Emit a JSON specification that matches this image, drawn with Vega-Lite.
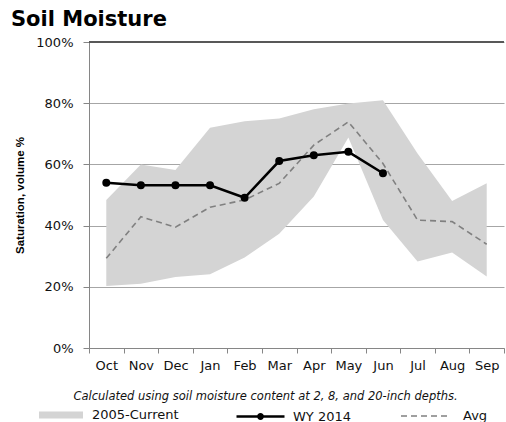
{
  "$schema": "https://vega.github.io/schema/vega-lite/v6.json",
  "width": 415,
  "height": 306,
  "autosize": "none",
  "padding": {"left": 89, "top": 42, "right": 2, "bottom": 74},
  "background": "white",
  "title": {
    "text": "Soil Moisture",
    "anchor": "start",
    "frame": "group",
    "dx": -78,
    "dy": 8,
    "offset": 14,
    "font": "DejaVu Sans",
    "fontSize": 21,
    "fontWeight": "bold",
    "color": "#000000"
  },
  "config": {
    "view": {"stroke": null},
    "font": "DejaVu Sans",
    "legend": {"padding": 0, "titlePadding": 0}
  },
  "data": {
    "values": [
      {"month": "Oct", "lo": 20.3, "hi": 48.4, "wy": 54.0, "avg": 29.3},
      {"month": "Nov", "lo": 21.0, "hi": 60.0, "wy": 53.2, "avg": 42.9},
      {"month": "Dec", "lo": 23.2, "hi": 58.2, "wy": 53.2, "avg": 39.5},
      {"month": "Jan", "lo": 24.1, "hi": 72.0, "wy": 53.2, "avg": 46.0},
      {"month": "Feb", "lo": 29.6, "hi": 74.1, "wy": 49.1, "avg": 48.4},
      {"month": "Mar", "lo": 37.3, "hi": 75.0, "wy": 61.1, "avg": 53.8},
      {"month": "Apr", "lo": 49.5, "hi": 78.0, "wy": 63.0, "avg": 66.3},
      {"month": "May", "lo": 68.8, "hi": 79.9, "wy": 64.1, "avg": 73.9},
      {"month": "Jun", "lo": 41.8, "hi": 81.0, "wy": 57.1, "avg": 60.3},
      {"month": "Jul", "lo": 28.3, "hi": 63.6, "wy": null, "avg": 41.8},
      {"month": "Aug", "lo": 31.2, "hi": 48.0, "wy": null, "avg": 41.3},
      {"month": "Sep", "lo": 23.4, "hi": 53.8, "wy": null, "avg": 33.9}
    ]
  },
  "encoding": {
    "x": {
      "field": "month",
      "type": "ordinal",
      "sort": null,
      "bandPosition": 0.5,
      "scale": {"type": "band", "paddingInner": 0, "paddingOuter": 0},
      "axis": {
        "title": "Calculated using soil moisture content at 2, 8, and 20-inch depths.",
        "titleFont": "DejaVu Sans",
        "titleFontStyle": "italic",
        "titleFontWeight": "normal",
        "titleFontSize": 11.5,
        "titleColor": "#111111",
        "titleX": 176,
        "titleY": 51,
        "titleAlign": "center",
        "titleBaseline": "alphabetic",
        "labelAngle": 0,
        "labelFontSize": 13,
        "labelColor": "#111111",
        "labelPadding": 6,
        "tickBand": "extent",
        "tickSize": 5,
        "tickColor": "#868686",
        "domainColor": "#868686",
        "grid": false
      }
    }
  },
  "layer": [
    {
      "mark": {"type": "area", "opacity": 1},
      "encoding": {
        "y": {
          "field": "lo",
          "type": "quantitative",
          "scale": {"domain": [0, 100], "nice": false},
          "axis": {
            "values": [0, 20, 40, 60, 80, 100],
            "labelExpr": "datum.value + '%'",
            "title": "Saturation, volume %",
            "titleFont": "Liberation Sans",
            "titleFontSize": 11.5,
            "titleFontWeight": "bold",
            "titleColor": "#000000",
            "titlePadding": 10,
            "labelFontSize": 13,
            "labelColor": "#111111",
            "labelPadding": 10,
            "tickSize": 6,
            "tickColor": "#868686",
            "domainColor": "#868686",
            "gridColor": "#a6a6a6",
            "gridWidth": 1
          }
        },
        "y2": {"field": "hi"},
        "fill": {
          "datum": "2005-Current",
          "scale": {"domain": ["2005-Current"], "range": ["#d4d4d4"]},
          "legend": {
            "orient": "none",
            "legendX": -50,
            "legendY": 351,
            "title": null,
            "labelFontSize": 13,
            "labelColor": "#111111",
            "labelOffset": 9,
            "symbolType": "M-1,-0.16H1V0.16H-1Z",
            "symbolSize": 1936,
            "symbolStrokeWidth": 0,
            "symbolOpacity": 1
          }
        }
      }
    },
    {
      "mark": {"type": "rule", "color": "#595959", "strokeWidth": 1.5},
      "encoding": {"y": {"datum": 100}, "x": null}
    },
    {
      "transform": [{"filter": "datum.avg != null"}],
      "mark": {"type": "line", "color": "#808080", "strokeWidth": 1.6},
      "encoding": {
        "y": {"field": "avg", "type": "quantitative"},
        "strokeDash": {
          "datum": "Avg",
          "scale": {"domain": ["Avg"], "range": [[6, 4]]},
          "legend": {
            "orient": "none",
            "legendX": 311,
            "legendY": 349,
            "title": null,
            "labelFontSize": 13,
            "labelColor": "#111111",
            "labelOffset": 13,
            "symbolType": "M-1,0H1",
            "symbolSize": 2304,
            "symbolStrokeColor": "#808080",
            "symbolStrokeWidth": 1.5,
            "symbolDash": [5, 4],
            "symbolOpacity": 1
          }
        }
      }
    },
    {
      "transform": [{"filter": "datum.wy != null"}],
      "mark": {"type": "line", "strokeWidth": 2.5, "point": {"filled": true, "size": 36, "color": "#000000"}},
      "encoding": {
        "y": {"field": "wy", "type": "quantitative"},
        "stroke": {
          "datum": "WY 2014",
          "scale": {"domain": ["WY 2014"], "range": ["#000000"]},
          "legend": {
            "orient": "none",
            "legendX": 146,
            "legendY": 349,
            "title": null,
            "labelFontSize": 13,
            "labelColor": "#111111",
            "labelOffset": 7,
            "symbolType": "M-1,0H1M-0.09,0A0.09,0.09 0 1,0 0.09,0A0.09,0.09 0 1,0 -0.09,0",
            "symbolSize": 2304,
            "symbolFillColor": "#000000",
            "symbolStrokeWidth": 2.5,
            "symbolOpacity": 1
          }
        }
      }
    }
  ]
}
